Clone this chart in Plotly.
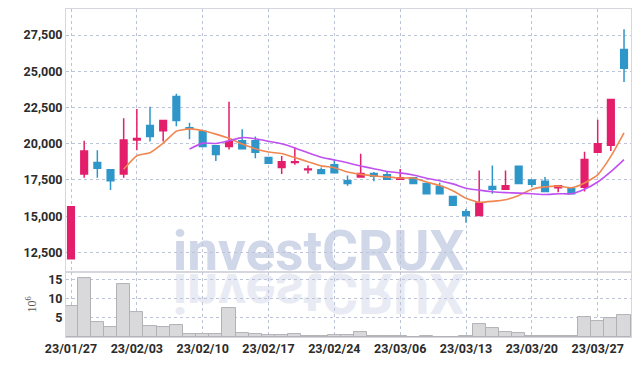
import plotly.graph_objects as go

dates = ["23/01/27", "23/01/30", "23/01/31", "23/02/01", "23/02/02", "23/02/03",
         "23/02/06", "23/02/07", "23/02/08", "23/02/09", "23/02/10",
         "23/02/13", "23/02/14", "23/02/15", "23/02/16", "23/02/17",
         "23/02/20", "23/02/21", "23/02/22", "23/02/23", "23/02/24",
         "23/02/27", "23/02/28", "23/03/02", "23/03/03",
         "23/03/06", "23/03/07", "23/03/08", "23/03/09", "23/03/10",
         "23/03/13", "23/03/14", "23/03/15", "23/03/16", "23/03/17",
         "23/03/20", "23/03/21", "23/03/22", "23/03/23", "23/03/24",
         "23/03/27", "23/03/28", "23/03/29"]

open_ = [12050, 17900, 18700, 18200, 17900, 20250, 21250, 20900, 23250, 21100, 20850,
         19850, 19800, 20200, 20200, 19050, 18350, 18700, 18200, 18200, 18550,
         17450, 17700, 17950, 17850, 17550, 17650, 17250, 17050, 16350,
         15300, 15050, 17050, 16850, 18450, 17500, 17400, 16950, 16900, 17000,
         19400, 19900, 26500]
high = [15650, 20200, 19550, 18250, 21750, 22400, 22550, 21600, 23450, 21450, 20850,
        19850, 22900, 21000, 20500, 19050, 19150, 19750, 18500, 18350, 18950,
        17800, 19300, 18050, 18050, 18250, 17650, 17250, 17300, 16350,
        15500, 18150, 18500, 18150, 18450, 17500, 17700, 17100, 16900, 19450,
        21650, 23050, 27900]
low = [12050, 17650, 17650, 16800, 17650, 19550, 20150, 20150, 21200, 20300, 19800,
       18800, 19600, 19600, 19000, 18650, 17900, 18550, 17950, 17950, 18000,
       17100, 17650, 17400, 17550, 17500, 17250, 16550, 16550, 15700,
       14550, 15050, 16550, 16850, 17250, 17000, 16700, 16650, 16550, 16700,
       19400, 19500, 24250]
close = [15650, 19500, 18300, 17450, 20250, 20350, 20500, 21600, 21600, 21050, 19800,
         19250, 20150, 19650, 19400, 18650, 18750, 18750, 18250, 17950, 18000,
         17250, 17950, 17750, 17550, 17650, 17250, 16550, 16550, 15750,
         15050, 15900, 16850, 17100, 17250, 17200, 16700, 17100, 16550, 18900,
         20000, 23050, 25200]

ma5 = [None] * 4 + [18230, 19170, 19370, 20030, 20860, 21020, 20910, 20660, 20370,
                    19980, 19650, 19420, 19320, 19040, 18760, 18470, 18340, 18040,
                    17880, 17780, 17700, 17630, 17630, 17350, 17110, 16750, 16230,
                    15960, 16020, 16130, 16430, 16860, 17020, 17070, 16960, 17290,
                    17850, 19120, 20740]
ma10 = [None] * 9 + [19625, 20040, 20015, 20200, 20420, 20335, 20165, 19990, 19705,
                     19370, 19060, 18880, 18680, 18460, 18270, 18085, 17985, 17835,
                     17615, 17445, 17225, 16930, 16795, 16685, 16620, 16590, 16545,
                     16490, 16545, 16545, 16860, 17355, 18070, 18905]

volume_m = [8.1, 15.3, 3.9, 2.6, 13.7, 6.5, 2.8, 2.6, 3.1, 0.86, 0.8,
            0.8, 7.5, 1.0, 0.86, 0.5, 0.45, 0.8, 0.3, 0.35, 0.5,
            0.5, 1.4, 0.2, 0.2, 0.2, 0.1, 0.25, 0.1, 0.1,
            0.3, 3.4, 2.2, 1.4, 0.9, 0.3, 0.3, 0.2, 0.25, 5.3,
            4.1, 5.0, 5.7]

price_ticks = [12500, 15000, 17500, 20000, 22500, 25000, 27500]
volume_ticks = [5, 10, 15]
date_ticks = ["23/01/27", "23/02/03", "23/02/10", "23/02/17", "23/02/24",
              "23/03/06", "23/03/13", "23/03/20", "23/03/27"]
watermark = "investCRUX"

RED = "rgb(227,30,106)"
BLUE = "rgb(46,150,200)"
GRID = "rgb(190,196,216)"
FRAME = "rgb(214,214,222)"
TICKFONT = dict(family="Roboto, Arial, sans-serif", size=12.5, color="#2b2b2b", weight="bold")

split = 0.198

fig = go.Figure()

# watermark (drawn in the first, hidden subplot so it sits beneath grid and marks)
fig.add_trace(go.Scatter(x=[0.447], y=[split - 0.037], text=[watermark], mode="text",
                         textposition="top center",
                         textfont=dict(family="Roboto, Arial, sans-serif", size=55,
                                       color="rgb(208,215,232)", weight="bold"),
                         xaxis="x", yaxis="y", hoverinfo="skip", showlegend=False))
fig.add_trace(go.Scatter(x=[0.447], y=[split + 0.003], text=[watermark], mode="text",
                         textposition="bottom center",
                         textfont=dict(family="Roboto, Arial, sans-serif", size=55,
                                       color="rgb(232,235,243)", weight="bold"),
                         xaxis="x", yaxis="y", hoverinfo="skip", showlegend=False))

fig.add_trace(go.Candlestick(x=dates, open=open_, high=high, low=low, close=close,
                             increasing=dict(line=dict(color=RED, width=1.5), fillcolor=RED),
                             decreasing=dict(line=dict(color=BLUE, width=1.5), fillcolor=BLUE),
                             xaxis="x2", yaxis="y2", hoverinfo="skip", showlegend=False))
fig.add_trace(go.Scatter(x=dates, y=ma5, mode="lines",
                         line=dict(color="rgb(240,135,80)", width=1.6, shape="spline", smoothing=0.5),
                         xaxis="x2", yaxis="y2", hoverinfo="skip", showlegend=False))
fig.add_trace(go.Scatter(x=dates, y=ma10, mode="lines",
                         line=dict(color="rgb(192,80,240)", width=1.6, shape="spline", smoothing=0.5),
                         xaxis="x2", yaxis="y2", hoverinfo="skip", showlegend=False))

fig.add_trace(go.Bar(x=dates, y=volume_m, width=1,
                     marker=dict(color="rgb(217,217,219)", line=dict(color="rgb(178,178,182)", width=1)),
                     xaxis="x3", yaxis="y3", hoverinfo="skip", showlegend=False))

xr = [-0.38, 42.53]
fig.update_layout(
    width=639, height=366,
    margin=dict(l=66, r=8, t=9, b=29, autoexpand=False),
    paper_bgcolor="white", plot_bgcolor="rgba(0,0,0,0)",
    showlegend=False, bargap=0, boxgap=0.28,
    xaxis=dict(domain=[0, 1], range=[0, 1], visible=False, fixedrange=True, automargin=False),
    yaxis=dict(domain=[0, 1], range=[0, 1], visible=False, fixedrange=True, automargin=False),
    xaxis2=dict(domain=[0, 1], anchor="y2", type="category", range=xr, automargin=False,
                rangeslider=dict(visible=False), showticklabels=False,
                tickmode="array", tickvals=date_ticks,
                showgrid=True, gridcolor=GRID, griddash="dot", gridwidth=1,
                showline=True, linecolor=FRAME, linewidth=1, mirror=True, ticks=""),
    yaxis2=dict(domain=[split, 1], anchor="x2", range=[11140, 29295], automargin=False,
                tickmode="array", tickvals=price_ticks, tickformat=",",
                tickfont=TICKFONT,
                showgrid=True, gridcolor=GRID, griddash="dot", gridwidth=1,
                zeroline=False,
                showline=True, linecolor=FRAME, linewidth=1, mirror=True, ticks=""),
    xaxis3=dict(domain=[0, 1], anchor="y3", type="category", range=xr, matches="x2",
                automargin=False,
                tickmode="array", tickvals=date_ticks, tickfont=TICKFONT,
                showgrid=True, gridcolor=GRID, griddash="dot", gridwidth=1,
                showline=True, linecolor=FRAME, linewidth=1, mirror=True, ticks=""),
    yaxis3=dict(domain=[0, split], anchor="x3", range=[0, 16.9], automargin=False,
                tickmode="array", tickvals=volume_ticks, tickfont=TICKFONT,
                showgrid=True, gridcolor=GRID, griddash="dot", gridwidth=1,
                zeroline=False,
                showline=True, linecolor=FRAME, linewidth=1, mirror=True, ticks="",
                title=dict(text="10<sup>6</sup>", standoff=8,
                           font=dict(family="Liberation Serif, serif", size=12, color="#555"))),
)

post_js = """
document.body.style.margin = '0';
var gd = document.getElementById('{plot_id}');
function flipReflection(){
  gd.querySelectorAll('text').forEach(function(t){
    if (t.textContent === 'investCRUX' && (t.style.fill || '').replace(/\\s/g,'') === 'rgb(232,235,243)') {
      t.style.transformBox = 'fill-box';
      t.style.transformOrigin = 'center';
      t.style.transform = 'scaleY(-1)';
    }
  });
}
flipReflection();
gd.on('plotly_afterplot', flipReflection);
"""

fig.write_html("out.html", post_script=post_js, config={"displayModeBar": False})
